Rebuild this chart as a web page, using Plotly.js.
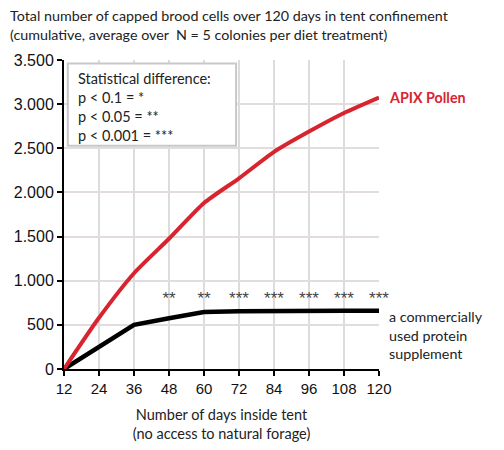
<!DOCTYPE html>
<html><head><meta charset="utf-8">
<script src="https://cdn.plot.ly/plotly-3.0.1.min.js"></script>
<style>html,body{margin:0;padding:0;background:#fff}#c{width:504px;height:450px}</style>
</head><body><div id="c"></div>
<script>
const days = [12, 24, 36, 48, 60, 72, 84, 96, 108, 120];
const apixPollen = [0, 580, 1085, 1475, 1880, 2160, 2460, 2690, 2900, 3075];
const supplement = [0, 250, 500, 575, 645, 655, 660, 660, 660, 660];
const sigDays = [48, 60, 72, 84, 96, 108, 120];
const sigLabels = ['**', '**', '***', '***', '***', '***', '***'];
const sigY = 780;
const yTicks = [0, 500, 1000, 1500, 2000, 2500, 3000, 3500];

const F = 'Lato, "Open Sans", sans-serif';
const TF = '"Liberation Sans", Arial, sans-serif';

const traces = [
  {x: days, y: supplement, mode: 'lines', line: {color: '#000000', width: 4.5}, hoverinfo: 'skip'},
  {x: days, y: apixPollen, mode: 'lines', line: {color: '#d7242f', width: 4, shape: 'spline', smoothing: 0.6}, hoverinfo: 'skip'},
  {x: sigDays, y: sigDays.map(() => sigY), mode: 'text', text: sigLabels, textposition: 'middle center',
   cliponaxis: false, textfont: {family: TF, size: 17, color: '#444'}, hoverinfo: 'skip'}
];

const layout = {
  width: 504, height: 450,
  margin: {l: 64, r: 125, t: 60, b: 81},
  paper_bgcolor: '#fff', plot_bgcolor: '#fff',
  showlegend: false,
  separators: ',.',
  xaxis: {
    range: [12, 120], tickvals: days, ticktext: days.map(String),
    showline: true, linecolor: '#000', linewidth: 2,
    ticks: 'outside', ticklen: 5, tickwidth: 2, tickcolor: '#000',
    showgrid: true, gridcolor: '#dcdcdc', gridwidth: 2,
    zeroline: false,
    tickfont: {family: TF, size: 15, color: '#111'},
    title: {text: 'Number of days inside tent<br>(no access to natural forage)', standoff: 14,
            font: {family: F, size: 14.5, color: '#222'}}
  },
  yaxis: {
    range: [0, 3500], tickvals: yTicks, tickformat: ',d',
    showline: true, linecolor: '#000', linewidth: 2,
    ticks: 'outside', ticklen: 5, tickwidth: 2, tickcolor: '#000',
    showgrid: true, gridcolor: '#e2dcdc', gridwidth: 2,
    zeroline: false,
    tickfont: {family: TF, size: 16, color: '#111'}
  },
  shapes: [
    {type: 'rect', xref: 'x', yref: 'y', x0: 13.3, x1: 71.0, y0: 2530, y1: 3460,
     fillcolor: '#ffffff', line: {color: '#c8c8c8', width: 2}, layer: 'above'}
  ],
  annotations: [
    {xref: 'paper', yref: 'paper', x: -0.178, y: 1.178, xanchor: 'left', yanchor: 'top', align: 'left', showarrow: false,
     text: 'Total number of capped brood cells over 120 days in tent confinement<br>(cumulative, average over  N = 5 colonies per diet treatment)',
     font: {family: F, size: 14.3, color: '#222'}},
    {xref: 'x', yref: 'y', x: 16, y: 3415, xanchor: 'left', yanchor: 'top', align: 'left', showarrow: false,
     text: 'Statistical difference:<br>p &lt; 0.1 = *<br>p &lt; 0.05 = **<br>p &lt; 0.001 = ***',
     font: {family: F, size: 14.5, color: '#222'}},
    {xref: 'paper', yref: 'y', x: 1.025, y: 3075, xanchor: 'left', yanchor: 'middle', showarrow: false,
     text: '<b>APIX Pollen</b>', font: {family: F, size: 14.3, color: '#d7242f'}},
    {xref: 'paper', yref: 'y', x: 1.025, y: 710, xanchor: 'left', yanchor: 'top', align: 'left', showarrow: false,
     text: 'a commercially<br>used protein<br>supplement', font: {family: F, size: 14.3, color: '#222'}}
  ]
};

Plotly.newPlot('c', traces, layout, {staticPlot: true, displayModeBar: false});
</script></body></html>
